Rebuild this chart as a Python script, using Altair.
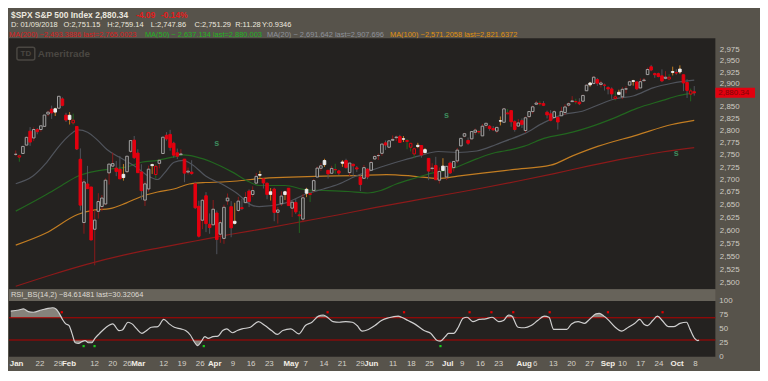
import altair as alt
import pandas as pd

# ---------------- data ----------------
opens = [2751.15, 2745.55, 2752.97, 2770.18, 2798.96, 2784.99, 2802.40, 2802.60, 2809.16, 2835.05, 2845.42, 2846.24, 2847.48, 2867.23, 2832.74, 2832.41,
         2816.45, 2808.92, 2741.06, 2614.78, 2690.95, 2685.01, 2601.78, 2636.75, 2646.27, 2651.21, 2713.46, 2727.14, 2722.99, 2720.53, 2710.42, 2715.80, 2757.37, 2780.45, 2753.78,
         2715.22, 2658.89, 2681.06, 2730.18, 2710.18, 2732.75, 2752.91, 2790.54, 2792.31, 2774.06, 2754.27, 2750.57, 2741.38, 2715.05, 2714.99, 2691.36, 2646.71, 2619.35, 2667.57, 2611.30, 2610.37,
         2633.45, 2592.17, 2584.04, 2657.36, 2645.82, 2617.18, 2638.41, 2643.89, 2653.83, 2676.90, 2670.10, 2692.74, 2710.11, 2701.16, 2692.56, 2675.40, 2680.80, 2634.92, 2651.65, 2675.47, 2682.51,
         2642.96, 2654.24, 2628.08, 2621.45, 2680.34, 2670.26, 2678.12, 2705.02, 2722.70, 2738.47, 2718.59, 2712.62, 2719.71, 2717.35, 2735.39, 2738.34, 2713.98, 2730.94, 2723.60, 2705.11, 2702.43, 2720.98,
         2718.70, 2741.67, 2748.46, 2753.25, 2774.84, 2765.84, 2780.18, 2785.60, 2787.94, 2783.21, 2777.78, 2765.79, 2752.01, 2769.73, 2769.28, 2760.79, 2742.94, 2722.12, 2728.45, 2698.69, 2727.13,
         2704.95, 2733.27, 2724.19, 2737.68, 2768.51, 2788.56, 2779.82, 2783.14, 2796.93, 2797.36, 2789.34, 2811.35, 2809.37, 2804.55, 2799.17, 2820.68, 2817.73, 2835.49, 2842.35, 2819.00, 2809.73,
         2821.17, 2800.48, 2829.62, 2840.29, 2855.92, 2856.79, 2857.19, 2838.90, 2835.46, 2827.88, 2827.95, 2831.44, 2838.32, 2853.93, 2861.51, 2860.99, 2860.29, 2862.35, 2884.69, 2901.45, 2900.62, 2908.94, 2898.37,
         2896.96, 2891.59, 2888.64, 2868.26, 2881.39, 2871.57, 2888.29, 2896.85, 2906.38, 2903.83, 2890.74, 2906.60, 2919.73, 2936.76, 2921.83, 2921.75, 2916.98, 2911.65, 2910.03,
         2926.29, 2923.80, 2931.69, 2919.35, 2902.54, 2877.53, 2882.51]
highs = [2759.14, 2750.80, 2767.56, 2787.85, 2807.54, 2807.04, 2805.83, 2810.33, 2833.03, 2842.24, 2852.97, 2848.56, 2872.87, 2870.62, 2837.75, 2839.26,
         2835.96, 2808.92, 2763.39, 2701.04, 2727.67, 2685.27, 2638.67, 2672.61, 2668.84, 2702.10, 2731.51, 2754.42, 2737.60, 2747.75, 2731.26, 2747.76, 2780.64, 2789.15, 2761.52,
         2730.89, 2696.25, 2728.09, 2732.08, 2730.60, 2740.45, 2786.57, 2796.98, 2801.90, 2777.11, 2763.03, 2761.85, 2741.38, 2724.22, 2739.14, 2695.68, 2657.67, 2661.36, 2674.78, 2632.65, 2659.07,
         2638.30, 2619.14, 2649.86, 2672.08, 2656.88, 2653.55, 2665.45, 2661.43, 2674.72, 2680.26, 2686.49, 2713.34, 2717.49, 2702.84, 2693.94, 2682.86, 2683.55, 2645.30, 2676.48, 2677.35, 2682.87,
         2655.27, 2660.87, 2637.14, 2670.93, 2683.35, 2676.34, 2701.27, 2726.11, 2732.86, 2742.10, 2718.59, 2727.76, 2731.96, 2719.50, 2739.19, 2742.24, 2733.33, 2731.97, 2727.36, 2710.67, 2729.34, 2722.50,
         2736.93, 2749.16, 2752.61, 2772.39, 2779.90, 2779.39, 2790.21, 2789.80, 2791.47, 2789.06, 2782.81, 2774.99, 2765.05, 2774.86, 2769.28, 2764.17, 2742.94, 2732.91, 2746.09, 2724.34, 2743.26,
         2727.26, 2736.58, 2737.83, 2764.41, 2784.65, 2795.58, 2785.91, 2799.22, 2804.53, 2801.19, 2814.19, 2816.76, 2812.05, 2809.70, 2808.61, 2829.99, 2848.03, 2845.57, 2843.17, 2821.74, 2824.46,
         2825.83, 2829.91, 2840.38, 2853.29, 2863.43, 2862.44, 2862.48, 2842.20, 2843.40, 2843.11, 2827.95, 2850.49, 2855.63, 2859.76, 2873.23, 2867.54, 2868.78, 2876.16, 2898.25, 2903.77, 2916.50, 2912.46, 2906.32,
         2900.18, 2894.21, 2892.05, 2883.81, 2886.93, 2892.52, 2894.65, 2906.76, 2908.30, 2904.65, 2911.17, 2912.36, 2934.80, 2940.91, 2923.79, 2923.95, 2931.15, 2927.22, 2920.53,
         2937.06, 2931.42, 2939.86, 2919.78, 2909.64, 2889.45, 2894.83]
lows = [2747.86, 2736.06, 2752.78, 2769.64, 2768.64, 2778.38, 2792.56, 2798.08, 2808.12, 2830.59, 2824.81, 2830.94, 2846.18, 2851.48, 2818.27, 2813.04,
        2812.70, 2759.97, 2638.17, 2593.07, 2681.33, 2580.56, 2532.69, 2622.45, 2637.08, 2648.87, 2689.82, 2725.11, 2706.76, 2701.29, 2697.77, 2713.74, 2753.78, 2742.10, 2713.54,
        2659.65, 2647.32, 2675.75, 2711.26, 2701.74, 2722.65, 2751.54, 2779.26, 2758.68, 2744.38, 2741.47, 2749.97, 2694.59, 2710.05, 2709.79, 2641.59, 2585.89, 2601.81, 2596.12, 2593.06, 2609.72,
        2553.80, 2575.49, 2573.61, 2649.58, 2586.27, 2610.79, 2635.78, 2639.25, 2653.83, 2645.05, 2665.16, 2692.05, 2703.63, 2681.90, 2660.61, 2657.99, 2617.32, 2612.67, 2647.16, 2659.01, 2648.04,
        2625.41, 2631.70, 2594.62, 2615.32, 2664.70, 2655.20, 2674.14, 2704.54, 2717.45, 2725.47, 2701.91, 2712.17, 2711.36, 2709.18, 2725.70, 2721.88, 2707.38, 2707.38, 2714.99, 2676.81, 2702.43, 2700.68,
        2718.70, 2740.54, 2739.51, 2748.46, 2760.16, 2763.59, 2780.17, 2778.78, 2774.65, 2776.52, 2761.73, 2757.12, 2743.19, 2763.91, 2744.39, 2752.68, 2698.67, 2715.60, 2699.38, 2691.99, 2718.03,
        2698.95, 2711.16, 2716.02, 2733.52, 2768.51, 2786.24, 2770.77, 2781.53, 2791.69, 2793.39, 2789.24, 2805.89, 2799.77, 2800.01, 2795.14, 2811.12, 2817.73, 2835.26, 2808.34, 2798.11, 2808.06,
        2805.85, 2796.34, 2827.37, 2835.98, 2855.92, 2853.09, 2851.98, 2825.81, 2819.88, 2826.58, 2802.49, 2831.44, 2833.73, 2850.62, 2861.32, 2856.05, 2854.03, 2862.35, 2884.69, 2893.50, 2898.40, 2895.22, 2891.73,
        2885.13, 2876.92, 2867.29, 2864.12, 2875.94, 2866.78, 2879.20, 2896.39, 2895.77, 2886.16, 2890.43, 2903.82, 2919.73, 2927.11, 2912.63, 2913.70, 2903.28, 2909.27, 2907.50,
        2917.91, 2919.37, 2921.36, 2883.92, 2869.29, 2862.08, 2874.27]
closes = [2751.29, 2748.23, 2767.56, 2786.24, 2776.42, 2802.56, 2798.03, 2810.30, 2832.97, 2839.13, 2837.54, 2839.25, 2872.87, 2853.53, 2822.43, 2823.81,
          2821.98, 2762.13, 2648.94, 2695.14, 2681.66, 2581.00, 2619.55, 2656.00, 2662.94, 2698.63, 2731.20, 2732.22, 2716.26, 2701.33, 2703.96, 2747.30, 2779.60, 2744.28, 2713.83,
          2677.67, 2691.25, 2720.94, 2728.12, 2726.80, 2738.97, 2786.57, 2783.02, 2765.31, 2749.48, 2747.33, 2752.01, 2712.92, 2716.94, 2711.93, 2643.69, 2588.26, 2658.55, 2612.62, 2605.00, 2640.87,
          2581.88, 2614.45, 2644.69, 2662.84, 2604.47, 2613.16, 2656.87, 2642.19, 2663.99, 2656.30, 2677.84, 2706.39, 2708.64, 2693.13, 2670.14, 2670.29, 2634.56, 2639.40, 2666.94, 2669.91, 2648.05,
          2654.80, 2635.67, 2629.73, 2663.42, 2672.63, 2671.92, 2697.79, 2723.07, 2727.72, 2730.13, 2711.45, 2722.46, 2720.13, 2712.97, 2733.01, 2724.44, 2733.29, 2727.76, 2721.33, 2689.86, 2724.01, 2705.27,
          2734.62, 2746.87, 2748.80, 2772.35, 2770.37, 2779.03, 2782.00, 2786.85, 2775.63, 2782.49, 2779.66, 2773.75, 2762.59, 2767.32, 2749.76, 2754.88, 2717.07, 2723.06, 2699.63, 2716.31, 2718.37,
          2726.71, 2713.22, 2736.61, 2759.82, 2784.17, 2793.84, 2774.02, 2798.29, 2801.31, 2798.43, 2809.55, 2815.62, 2804.49, 2801.83, 2806.98, 2820.40, 2846.07, 2837.44, 2818.82, 2802.60, 2816.29,
          2813.36, 2827.22, 2840.35, 2850.40, 2858.45, 2857.70, 2853.58, 2833.28, 2821.93, 2839.96, 2818.37, 2840.69, 2850.13, 2857.05, 2862.96, 2861.82, 2856.98, 2874.69, 2896.74, 2897.52, 2914.04, 2901.13, 2901.52,
          2896.72, 2888.60, 2878.05, 2871.68, 2877.13, 2887.89, 2888.92, 2904.18, 2904.98, 2888.80, 2904.31, 2907.95, 2930.75, 2929.67, 2919.37, 2915.56, 2905.97, 2914.00, 2913.98,
          2924.59, 2923.43, 2925.51, 2901.61, 2885.57, 2884.43, 2880.34]
prev_close0 = 2747.71

ma20_idx = [0, 4.8, 8.3, 11, 13.6, 16, 17.4, 20, 22.7, 25.4, 28.9, 33.4, 36.9, 39.5, 41.4, 44.1, 46.7, 49.4, 52.9, 57.4, 61.7, 65.4, 67.8, 75, 81.2, 85.7, 90, 94.5, 98, 103.3, 107.9, 112.4, 117.7, 123.1, 128.4, 133.7, 136.1, 141.7, 147.1, 152.4, 157.8, 163.1, 166.8, 172.2, 177.5, 182.8, 189]
ma20_val = [2691.6, 2707, 2732, 2758, 2781, 2797, 2802, 2797, 2781, 2761, 2745, 2726, 2707, 2700, 2713, 2735, 2739, 2729, 2707, 2691, 2672, 2650, 2646, 2653, 2672, 2681, 2691, 2706, 2716, 2729, 2739, 2748, 2757, 2755, 2758, 2771, 2778, 2794, 2817, 2834, 2841, 2857, 2867, 2874, 2891, 2901, 2907.7]
ma50_idx = [0, 8.3, 12.8, 17.4, 21.7, 26.2, 30.7, 35, 39.5, 44, 46.7, 50.2, 54.7, 60.1, 65.4, 67.8, 75, 81.2, 85.7, 92.6, 98, 101.7, 106, 111.3, 115.9, 121.2, 128.4, 133.7, 136.1, 141.7, 147.1, 155.1, 159.6, 166.8, 173, 180.2, 184.5, 189]
ma50_val = [2637.1, 2669, 2688, 2707, 2716, 2721, 2725, 2735, 2739, 2746, 2750, 2746, 2735, 2716, 2694, 2688, 2688, 2679, 2678, 2676, 2673, 2678, 2691, 2703, 2713, 2721, 2742, 2755, 2758, 2768, 2784, 2797, 2807, 2827, 2847, 2864, 2874, 2880.0]
ma100_idx = [0, 8.3, 17.4, 21.7, 26.2, 30.7, 35, 39.5, 44, 48.3, 52.9, 57.4, 61.7, 67.8, 76.6, 85.7, 94.5, 103.3, 110.5, 117.7, 123.1, 130, 136.1, 138.3, 149, 155.1, 162.3, 173, 182.8, 189]
ma100_val = [2571.2, 2594, 2631, 2639, 2642, 2653, 2666, 2675, 2681, 2691, 2694, 2695, 2697, 2702, 2705, 2707, 2708, 2710, 2707, 2702, 2707, 2713, 2718, 2720, 2729, 2748, 2768, 2791, 2813, 2821.6]
ma200_idx = [0, 10, 20, 30, 40, 50, 60, 70, 80, 90, 100, 110, 120, 130, 140, 150, 160, 170, 180, 189]
ma200_val = [2493.4, 2515, 2535, 2552, 2566, 2579, 2592, 2604, 2617, 2630, 2644, 2657, 2670, 2683, 2697, 2712, 2728, 2743, 2756, 2765.0]

rsi_idx = [0, 2.2, 3.5, 4.8, 6.2, 8.4, 10.2, 11.5, 12.4, 13.3, 14.2, 15.1, 16.0, 16.8, 17.7, 18.6, 19.5, 20.4, 21.3, 22.2,
           23.1, 24.4, 26.2, 28.0, 29.7, 30.6, 32.2, 33.3, 34.6, 36.0, 37.3, 38.6, 40.4, 42.0, 43.5, 44.9, 46.7, 48.0, 49.3, 50.2,
           51.3, 52.2, 53.3, 54.2, 55.5, 56.9, 58.2, 59.3, 60.9, 62.2, 63.5, 65.8, 68.0, 69.8, 71.6, 73.2, 74.7, 76.9, 79.1, 80.9,
           82.7, 84.5, 85.8, 87.1, 88.5, 90.2, 92.0, 93.8, 95.1, 96.5, 98.2, 100.0, 101.8, 103.8, 106.4, 107.3, 109.1, 110.9, 113.5, 115.3,
           117.1, 118.0, 119.3, 120.2, 121.6, 122.9, 124.2, 125.3, 126.9, 128.7, 130.4, 132.2, 134.0, 135.3, 136.7, 137.6, 139.3, 141.1, 142.9, 144.7,
           146.5, 147.8, 149.1, 150.5, 152.7, 154.0, 155.8, 157.6, 158.9, 160.7, 161.6, 162.9, 164.3, 166.0, 167.8, 169.6, 171.4, 172.7, 174.0, 174.9,
           176.3, 177.6, 178.9, 180.7, 182.0, 183.8, 185.6, 186.5, 187.8, 188.7, 189.0]
rsi_val = [82, 84, 86, 81, 80, 84, 87, 88, 86, 78, 67, 59, 56, 42, 25, 24, 27, 29, 25, 25,
           33, 42, 53, 59, 47, 48, 62, 59, 50, 42, 47, 53, 54, 67, 59, 53, 50, 47, 39, 29,
           20, 26, 36, 33, 36, 37, 47, 50, 43, 47, 50, 53, 63, 56, 47, 40, 47, 50, 41, 56,
           62, 73, 75, 70, 63, 62, 63, 62, 56, 46, 49, 56, 65, 70, 73, 71, 65, 59, 47, 42,
           29, 28, 36, 42, 42, 53, 69, 71, 63, 67, 68, 71, 63, 65, 75, 73, 53, 52, 56, 65,
           73, 71, 49, 49, 49, 59, 63, 60, 67, 77, 78, 73, 65, 53, 46, 53, 60, 67, 58, 56,
           65, 73, 65, 54, 54, 60, 62, 50, 33, 29, 30.3]
rsi_sell_idx = [14, 87, 108, 126, 132, 138, 148, 164, 179]
rsi_buy_idx = [20, 23, 53, 118]

s_idx = [56, 120, 184]
s_val = [2774, 2834, 2754]

# 2,875 sits under the last-price tag in the reference, so it is not labelled
price_ticks = [2500, 2525, 2550, 2575, 2600, 2625, 2650, 2675, 2700, 2725, 2750, 2775, 2800,
               2825, 2850, 2900, 2925, 2950, 2975]
rsi_ticks = [0, 25, 50, 75, 100]
tick_idx = [1.6, 8, 13, 16, 23, 28, 32, 35, 42, 47, 52, 56, 61, 66, 71, 77, 81, 86, 91, 96,
            99, 105, 110, 115, 120, 124, 129, 134, 141, 144, 149, 154, 159, 164, 168, 173, 178, 183, 188]
tick_lab = ["Jan", "22", "29", "Feb", "12", "20", "26", "Mar", "12", "19", "26", "Apr", "9", "16", "23",
            "May", "7", "14", "21", "29", "Jun", "11", "18", "25", "Jul", "9", "16", "23", "Aug", "6",
            "13", "20", "27", "Sep", "10", "17", "24", "Oct", "8"]
month_names = ["Jan", "Feb", "Mar", "Apr", "May", "Jun", "Jul", "Aug", "Sep", "Oct"]

# ---------------- layout / style ----------------
W = 712
H_HEAD, H_PRICE, H_RH, H_RSI, H_AX = 29, 253, 12, 56, 13
BG = "#57534b"
PANEL = "#242220"
FONT = "Liberation Sans"
LBL = "#cdc9c1"

xscale = alt.Scale(domain=[-0.5, 193.5], nice=False, zero=False)
yscale = alt.Scale(type="log", domain=[2488, 3000], nice=False)
rscale = alt.Scale(domain=[0, 100], nice=False, zero=False)
X = alt.X("i:Q", scale=xscale, axis=None)

dummy = pd.DataFrame({"k": [0]})


def label(txt, x, y, color, size=7.5, bold=False, align="left"):
    return alt.Chart(dummy).mark_text(
        text=txt, align=align, baseline="middle", fontSize=size,
        fontWeight="bold" if bold else "normal", color=color, font=FONT
    ).encode(x=alt.value(x), y=alt.value(y))


price_axis = alt.Axis(orient="right", values=price_ticks, format=",d", labelColor=LBL,
                      labelFontSize=8, labelFont=FONT, domain=False, ticks=False, grid=False,
                      labelPadding=4, labelOverlap=False, labelFlush=False, title=None)

# ---------------- header ----------------
WH = "#ebe7df"
header = alt.layer(
    label("$SPX S&P 500 Index", 2, 6, WH, 8.5, True),
    label("2,880.34", 87, 6, WH, 8.5, True),
    label("-4.09", 128, 6, "#e31b1b", 8.5, True),
    label("-0.14%", 153, 6, "#e31b1b", 8.5, True),
    label("D: 01/09/2018", 2, 16, WH),
    label("O:2,751.15", 55, 16, WH),
    label("H:2,759.14", 99, 16, WH),
    label("L:2,747.86", 143, 16, WH),
    label("C:2,751.29", 187, 16, WH),
    label("R:11.28", 228, 16, WH),
    label("Y:0.9346", 255, 16, WH),
    label("MA(200) ~2,493.3886 last=2,765.0023", 0, 25.5, "#d81e1e"),
    label("MA(50) ~ 2,637.134 last=2,880.003", 137, 25.5, "#22b322"),
    label("MA(20) ~ 2,691.642 last=2,907.696", 260, 25.5, "#8d929b"),
    label("MA(100) ~2,571.2058 last=2,821.6372", 384, 25.5, "#e0920f"),
).properties(width=W, height=H_HEAD)

# ---------------- price panel ----------------
bars = pd.DataFrame({"i": list(range(len(closes))), "o": opens, "h": highs, "l": lows, "c": closes})
prev = [prev_close0] + closes[:-1]
kind = []
for o, c, p in zip(opens, closes, prev):
    if c >= p:
        kind.append("up_hollow" if c >= o else "up_filled")
    else:
        kind.append("dn_hollow" if c >= o else "dn_filled")
bars["kind"] = kind
kinds = ["up_hollow", "up_filled", "dn_hollow", "dn_filled"]
stroke_scale = alt.Scale(domain=kinds, range=["#a4a4a4", "#eeeeee", "#e3000f", "#e3000f"])
fill_scale = alt.Scale(domain=kinds, range=[PANEL, "#eeeeee", PANEL, "#e3000f"])

ma_df = pd.concat([
    pd.DataFrame({"i": ma200_idx, "v": ma200_val, "ma": "MA200"}),
    pd.DataFrame({"i": ma100_idx, "v": ma100_val, "ma": "MA100"}),
    pd.DataFrame({"i": ma50_idx, "v": ma50_val, "ma": "MA50"}),
    pd.DataFrame({"i": ma20_idx, "v": ma20_val, "ma": "MA20"}),
])
ma_scale = alt.Scale(domain=["MA200", "MA100", "MA50", "MA20"],
                     range=["#8c1a1a", "#c27d22", "#22661f", "#50545c"])

ma_lines = alt.Chart(ma_df).mark_line(strokeWidth=1.2, interpolate="monotone").encode(
    x=X, y=alt.Y("v:Q", scale=yscale, axis=price_axis),
    color=alt.Color("ma:N", scale=ma_scale, legend=None), detail="ma:N")

wicks = alt.Chart(bars).mark_rule(strokeWidth=1).encode(
    x=X, y=alt.Y("l:Q", scale=yscale), y2="h:Q",
    color=alt.Color("kind:N", scale=stroke_scale, legend=None))

bodies = alt.Chart(bars).mark_bar(size=2.6, strokeWidth=1).encode(
    x=X, y=alt.Y("o:Q", scale=yscale), y2="c:Q",
    fill=alt.Fill("kind:N", scale=fill_scale, legend=None),
    stroke=alt.Stroke("kind:N", scale=stroke_scale, legend=None))

s_marks = alt.Chart(pd.DataFrame({"i": s_idx, "v": s_val})).mark_text(
    text="s", fontSize=9, fontWeight="bold", color="#3d8a5c", font=FONT).encode(
    x=X, y=alt.Y("v:Q", scale=yscale))

WM = "#4a4742"
wm_box = alt.Chart(dummy).mark_rect(filled=False, stroke=WM, strokeWidth=1.5, cornerRadius=2).encode(
    x=alt.value(8), x2=alt.value(26), y=alt.value(9), y2=alt.value(22))
wm_td = label("TD", 17, 15.5, WM, 8, True, "center")
wm_name = label("Ameritrade", 29, 15.5, WM, 10, True)

last_df = pd.DataFrame({"c": [closes[-1]]})
tag = alt.Chart(last_df).mark_rule(color="#e3000f", strokeWidth=10, strokeCap="butt").encode(
    x=alt.value(W), x2=alt.value(W + 40), y=alt.Y("c:Q", scale=yscale))
tag_text = alt.Chart(last_df).mark_text(align="left", baseline="middle", fontSize=8, color="#7d0707",
                                        font=FONT).encode(
    x=alt.value(W + 3), y=alt.Y("c:Q", scale=yscale), text=alt.Text("c:Q", format=",.2f"))

price = alt.layer(ma_lines, wm_box, wm_td, wm_name, wicks, bodies, s_marks, tag, tag_text).properties(
    width=W, height=H_PRICE, view=alt.ViewBackground(fill=PANEL, stroke=None))

# ---------------- RSI header strip ----------------
rsi_head = alt.layer(
    alt.Chart(dummy).mark_rect(color="#67635a").encode(
        x=alt.value(0), x2=alt.value(W), y=alt.value(0), y2=alt.value(H_RH)),
    label("RSI_BS(14,2) ~84.61481 last=30.32064", 2, 6, "#dedad2", 7.5),
).properties(width=W, height=H_RH)

# ---------------- RSI panel ----------------
rsi_df = pd.DataFrame({"i": rsi_idx, "v": rsi_val})
rsi_line = alt.Chart(rsi_df).mark_line(color="#cfcfcf", strokeWidth=1.2, interpolate="monotone").encode(
    x=X, y=alt.Y("v:Q", scale=rscale, axis=None))
area_hi = alt.Chart(rsi_df).transform_calculate(a="max(datum.v, 70)").mark_area(
    color="#86827b", interpolate="monotone").encode(
    x=X, y=alt.Y("a:Q", scale=rscale, axis=None), y2=alt.datum(70))
area_lo = alt.Chart(rsi_df).transform_calculate(a="min(datum.v, 30)").mark_area(
    color="#86827b", interpolate="monotone").encode(
    x=X, y=alt.Y("a:Q", scale=rscale, axis=None), y2=alt.datum(30))
thr = alt.Chart(pd.DataFrame({"thr": [70, 30]})).mark_rule(color="#b80000", strokeWidth=1).encode(
    y=alt.Y("thr:Q", scale=rscale, axis=None))
sell = alt.Chart(pd.DataFrame({"i": rsi_sell_idx})).mark_square(size=5, color="#e00000", opacity=1).encode(
    x=X, y=alt.datum(80, axis=None))
buy = alt.Chart(pd.DataFrame({"i": rsi_buy_idx})).mark_square(size=5, color="#1ec81e", opacity=1).encode(
    x=X, y=alt.datum(19, axis=None))
# scale labels of the RSI pane, one text per tick value, placed through the RSI scale
rsi_labels = [
    alt.Chart(dummy).mark_text(text=str(v), align="left", baseline="middle", fontSize=8,
                               color=LBL, font=FONT).encode(
        x=alt.value(W + 4), y=alt.datum(v, axis=None))
    for v in rsi_ticks
]
rsi = alt.layer(area_hi, area_lo, thr, rsi_line, sell, buy, *rsi_labels).properties(
    width=W, height=H_RSI, view=alt.ViewBackground(fill=PANEL, stroke=None))

# ---------------- date strip ----------------
ticks_df = pd.DataFrame({"i": tick_idx, "lab": tick_lab})
ticks_df["month"] = ticks_df["lab"].isin(month_names)
strip = alt.layer(
    alt.Chart(ticks_df).transform_filter("!datum.month").mark_text(
        fontSize=8, color="#d4d0c8", font=FONT, baseline="middle").encode(
        x=X, y=alt.value(7), text="lab:N"),
    alt.Chart(ticks_df).transform_filter("datum.month").mark_text(
        fontSize=8, fontWeight="bold", color="#f2eee6", font=FONT, baseline="middle").encode(
        x=X, y=alt.value(7), text="lab:N"),
).properties(width=W, height=H_AX)

chart = alt.vconcat(header, price, rsi_head, rsi, strip, spacing=0, bounds="flush").properties(
    padding=0, background=BG
).configure_view(stroke=None)

chart.save("out.html", embed_options={"renderer": "svg", "actions": False})
